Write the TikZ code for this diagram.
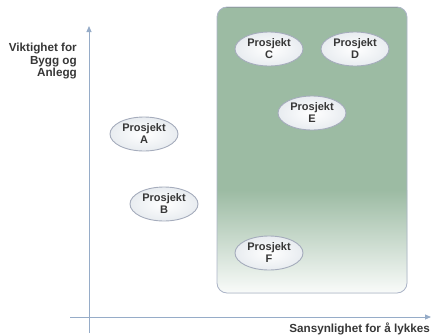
\documentclass[tikz,border=0pt]{standalone}
\usepackage{fontspec}
\setmainfont{Liberation Sans}
\usetikzlibrary{shapes.geometric,arrows.meta}
\definecolor{axisc}{RGB}{150,172,200}
\definecolor{boxg}{RGB}{156,187,163}
\definecolor{boxedge}{RGB}{172,180,200}
\definecolor{boxtop}{RGB}{128,148,134}
\definecolor{ellfill}{RGB}{232,236,240}
\definecolor{elledge}{RGB}{165,172,188}
\definecolor{txt}{RGB}{55,55,55}
\begin{document}
\begin{tikzpicture}[x=1pt,y=-1pt,
  proj/.style={ellipse, draw=elledge, line width=0.9pt, inner color=white, outer color=ellfill,
    minimum width=68pt, minimum height=34pt, inner sep=0pt, align=center, text=txt,
    font=\bfseries\fontsize{11}{12}\selectfont},
  axis/.style={draw=axisc, line width=0.9pt, -{Triangle[length=6pt,width=5pt]}},
  lbl/.style={text=txt, font=\bfseries\fontsize{11.7}{12.5}\selectfont, inner sep=0pt}]
\useasboundingbox (0,0) rectangle (431,335);
% green area
\fill[boxg, rounded corners=10pt] (217,7) rectangle (407,293);
\begin{scope}
  \clip[rounded corners=10pt] (217,7) rectangle (407,293);
  \shade[top color=boxg, bottom color=white!94!boxg] (217,190) rectangle (407,293);
  \draw[boxtop, line width=2pt] (217,7) -- (407,7);
\end{scope}
\draw[boxedge, line width=0.8pt, rounded corners=10pt] (217,7) rectangle (407,293);
% axes
\coordinate (yb) at (89,333);
\coordinate (yt) at (89,26);
\coordinate (xl) at (70,317);
\coordinate (xr) at (431,317);
\draw[axis] (yb) -- (yt);
\draw[axis] (xl) -- (xr);
% labels
\node[lbl, anchor=north east, align=right] (ylab) at (77,43) {Viktighet for\\Bygg og\\Anlegg};
\node[lbl, anchor=east] (xlab) at (430,329) {Sansynlighet for å lykkes};
% projects
\node[proj] (A) at (144,134) {Prosjekt\\A};
\node[proj] (B) at (164,204) {Prosjekt\\B};
\node[proj] (C) at (269,49) {Prosjekt\\C};
\node[proj] (D) at (355,49) {Prosjekt\\D};
\node[proj] (E) at (312,113) {Prosjekt\\E};
\node[proj] (F) at (269,253) {Prosjekt\\F};
\end{tikzpicture}
\end{document}
